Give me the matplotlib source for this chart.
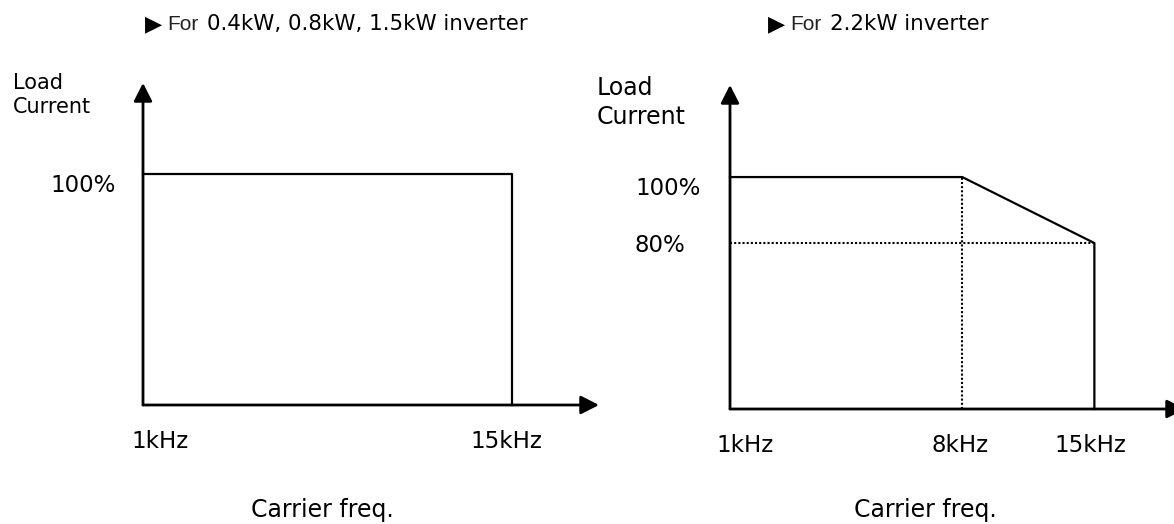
import matplotlib.pyplot as plt
import numpy as np

# --- data -------------------------------------------------------------
# left chart: 0.4kW / 0.8kW / 1.5kW inverter
freq_a = [1, 15, 15]
load_a = [100, 100, 0]
ticks_a = [1, 15]
tick_labels_a = ["1kHz", "15kHz"]
levels_a = [100]
level_labels_a = ["100%"]

# right chart: 2.2kW inverter
freq_b = [1, 8, 15, 15]
load_b = [100, 100, 80, 0]
ticks_b = [1, 8, 15]
tick_labels_b = ["1kHz", "8kHz", "15kHz"]
levels_b = [100, 80]
level_labels_b = ["100%", "80%"]
derate_freq = 8
derate_load = 80

W, H = 1174, 524
fig = plt.figure(figsize=(W / 100, H / 100), dpi=100)


def px_axes(x0, y0, x1, y1):
    # origin (x0, y0) and arrow tips (x1, y1) given in image pixels
    ax = fig.add_axes([x0 / W, 1 - y0 / H, (x1 - x0) / W, (y0 - y1) / H])
    ax.axis("off")
    return ax


def ftext(x, y, s, **kw):
    fig.text(x / W, 1 - y / H, s, **kw)


def piecewise(knots, pos):
    # drawing is not to scale: piecewise linear axis through the knots
    return (lambda v: np.interp(v, knots, pos),
            lambda p: np.interp(p, pos, knots))


def arrows(ax, xtip, ytip):
    ap = dict(arrowstyle="-|>,head_length=0.55,head_width=0.28", lw=2.0,
              color="black", shrinkA=0, shrinkB=0, mutation_scale=20)
    ax.annotate("", xy=(xtip, 0), xytext=(1, 0), arrowprops=ap,
                annotation_clip=False)
    ax.annotate("", xy=(1, ytip), xytext=(1, 0), arrowprops=ap,
                annotation_clip=False)


def labels(ax, ticks, tick_labels, tick_dx, levels, level_labels, lab_dx):
    for x, s, dx in zip(ticks, tick_labels, tick_dx):
        ax.annotate(s, xy=(x, 0), xytext=(dx, -37), textcoords="offset pixels",
                    ha="center", va="center", fontsize=16.5,
                    annotation_clip=False)
    for y, s in zip(levels, level_labels):
        dy = -11 if y == 100 else -2
        ax.annotate(s, xy=(1, y), xytext=(lab_dx, dy), textcoords="offset pixels",
                    ha="left", va="center", fontsize=16.5,
                    annotation_clip=False)


# --- left chart -------------------------------------------------------
ax1 = px_axes(143, 405, 599, 83)
ax1.set_xlim(1, 18.3)
ax1.set_ylim(0, 139.4)
ax1.plot(freq_a, load_a, color="black", lw=1.6, clip_on=False)
arrows(ax1, 18.3, 139.4)
labels(ax1, ticks_a, tick_labels_a, [17, -6], levels_a, level_labels_a, -93)

# --- right chart ------------------------------------------------------
ax2 = px_axes(730, 409, 1185, 85)
ax2.set_xscale("function", functions=piecewise(
    [-100, 1, 8, 15, 100], [-101 * 33.1, 0, 232, 364, 364 + 85 * 18.86]))
ax2.set_yscale("function", functions=piecewise(
    [-100, 0, 80, 100, 300], [-207.5, 0, 166, 232, 232 + 200 * 3.3]))
ax2.set_xlim(1, 19.8)
ax2.set_ylim(0, 127.9)
ax2.plot([1, 15], [derate_load, derate_load], color="black", lw=1.5,
         linestyle=(0, (1, 1)), clip_on=False)
ax2.plot([derate_freq, derate_freq], [0, 100], color="black", lw=1.5,
         linestyle=(0, (1, 1)), clip_on=False)
ax2.plot(freq_b, load_b, color="black", lw=1.6, clip_on=False)
arrows(ax2, 19.8, 127.9)
labels(ax2, ticks_b, tick_labels_b, [15, -2, -4], levels_b, level_labels_b, -95)

# --- titles and axis names ----------------------------------------------
for x0, main in [(146, "0.4kW, 0.8kW, 1.5kW inverter"), (769, "2.2kW inverter")]:
    ftext(x0 - 1, 24, "\u25B6", fontsize=16, va="center", ha="left")
    ftext(x0 + 21, 24, "For", fontsize=15, family="Liberation Sans",
          color="#222222", va="center", ha="left")
    ftext(x0 + 61, 24, main, fontsize=15.4, va="center", ha="left")

ftext(13, 83, "Load", fontsize=15, va="center")
ftext(13, 107, "Current", fontsize=15, va="center")
ftext(597, 88, "Load", fontsize=17, va="center")
ftext(597, 117, "Current", fontsize=17, va="center")

ftext(322, 510, "Carrier freq.", fontsize=17, ha="center", va="center")
ftext(925, 510, "Carrier freq.", fontsize=17, ha="center", va="center")

fig.savefig("out.png", dpi=100)
